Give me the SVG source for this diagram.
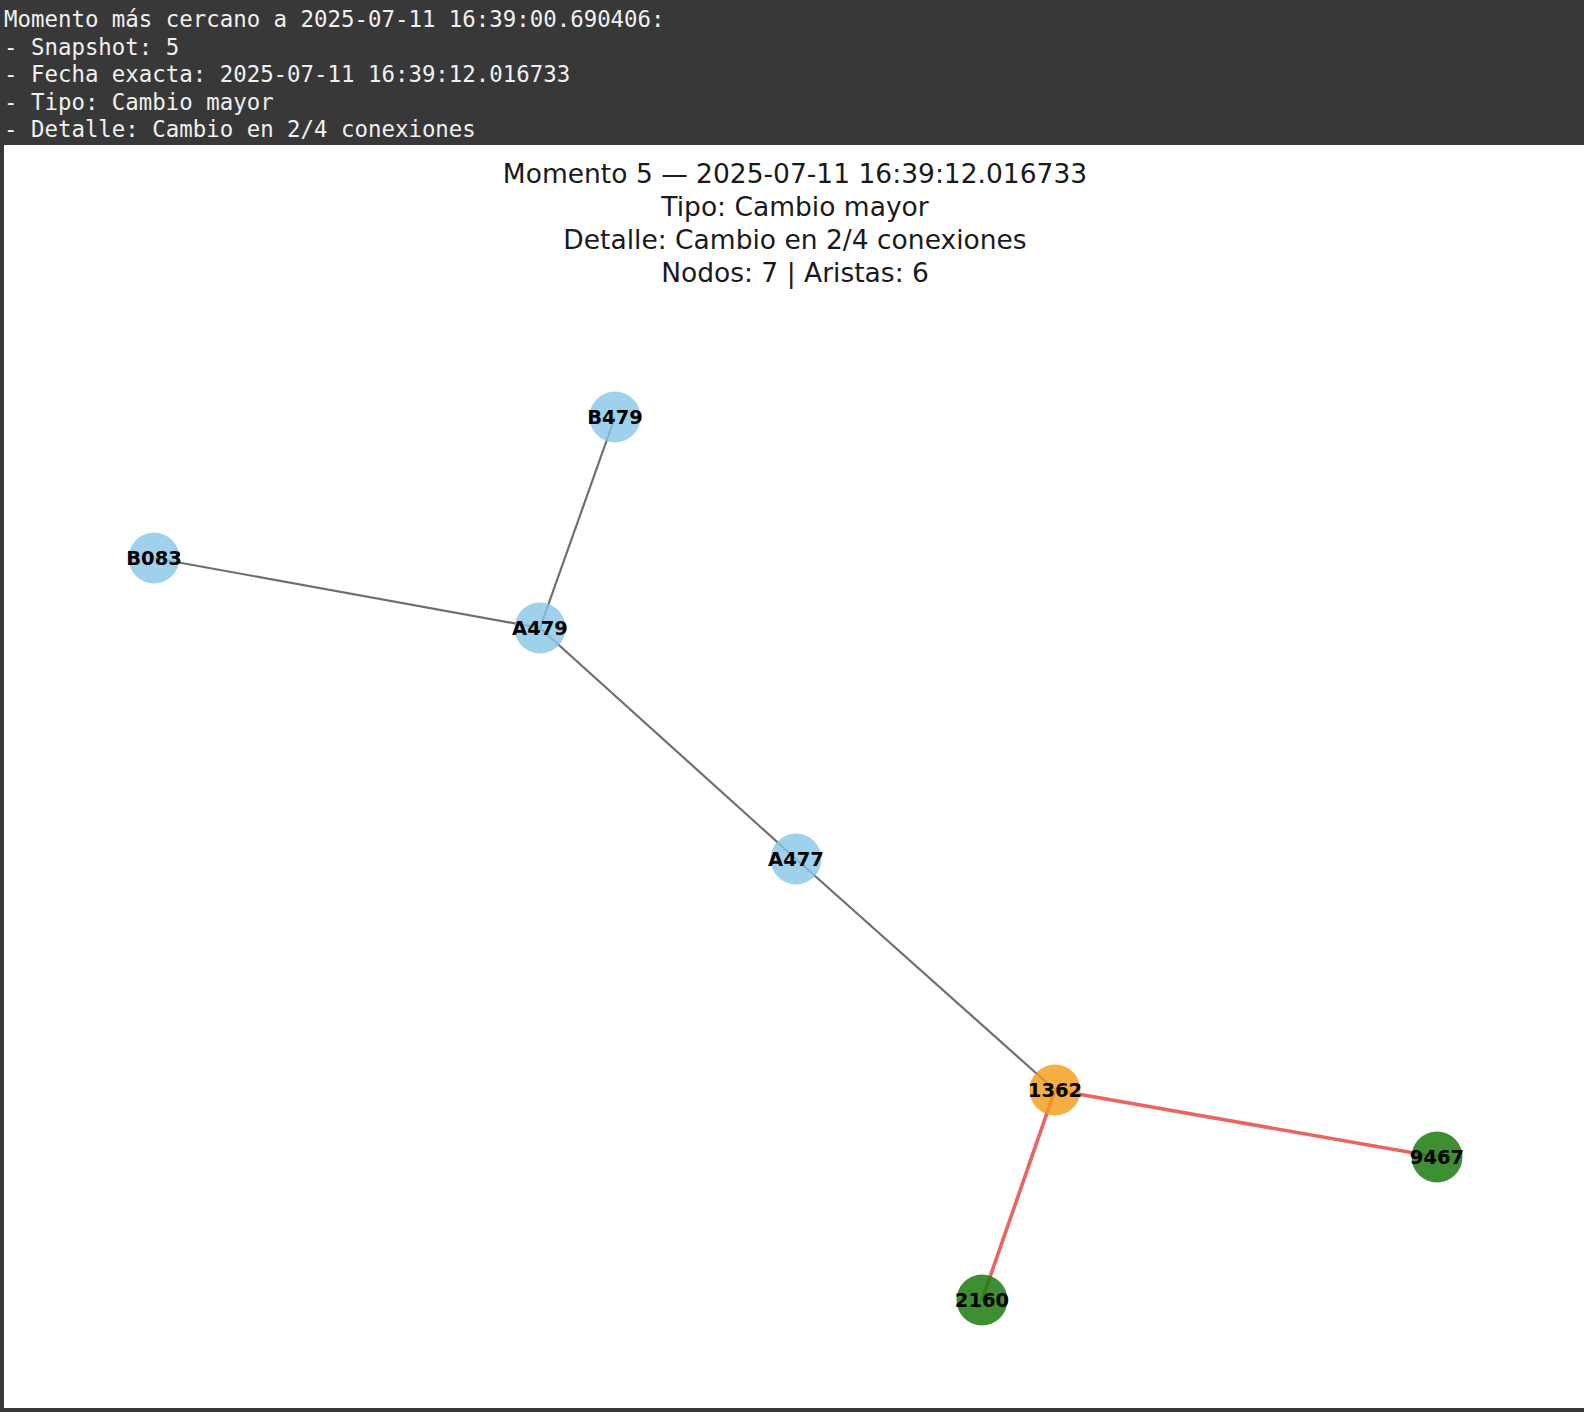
<svg xmlns="http://www.w3.org/2000/svg" width="1584" height="1412" viewBox="0 0 1584 1412">
<style>
.hdr{font-family:"DejaVu Sans Mono","Liberation Mono",monospace;font-size:22.4px;fill:#f0f0f0}
.ttl{font-family:"DejaVu Sans","Liberation Sans",sans-serif;font-size:26.5px;fill:#1a1a1a;text-anchor:middle}
.lbl{font-family:"DejaVu Sans","Liberation Sans",sans-serif;font-size:19.5px;font-weight:bold;fill:#000;text-anchor:middle;dominant-baseline:central}
.e{stroke:#555;stroke-width:2.2;stroke-opacity:0.85}
.r{stroke:#e8534f;stroke-width:3.6;stroke-opacity:0.9}
.blue{fill:#87c6e8;fill-opacity:0.8}
.orange{fill:#f39c1a;fill-opacity:0.82}
.green{fill:#1c7a0f;fill-opacity:0.85}
</style>
<rect x="0" y="0" width="1584" height="1412" fill="#383838"/>
<rect x="4" y="145" width="1580" height="1263" fill="#ffffff"/>
<g id="header">
<text class="hdr" x="4" y="27">Momento más cercano a 2025-07-11 16:39:00.690406:</text>
<text class="hdr" x="4" y="55">- Snapshot: 5</text>
<text class="hdr" x="4" y="82">- Fecha exacta: 2025-07-11 16:39:12.016733</text>
<text class="hdr" x="4" y="110">- Tipo: Cambio mayor</text>
<text class="hdr" x="4" y="137">- Detalle: Cambio en 2/4 conexiones</text>
</g>
<g id="title">
<text class="ttl" x="795" y="182.5">Momento 5 — 2025-07-11 16:39:12.016733</text>
<text class="ttl" x="795" y="215.8">Tipo: Cambio mayor</text>
<text class="ttl" x="795" y="249.1">Detalle: Cambio en 2/4 conexiones</text>
<text class="ttl" x="795" y="282.4">Nodos: 7 | Aristas: 6</text>
</g>
<g id="connectors">
<line class="e" x1="615" y1="417" x2="540" y2="628"/>
<line class="e" x1="154" y1="558" x2="540" y2="628"/>
<line class="e" x1="540" y1="628" x2="796" y2="859"/>
<line class="e" x1="796" y1="859" x2="1055" y2="1090"/>
<line class="r" x1="1055" y1="1090" x2="1437" y2="1157"/>
<line class="r" x1="1055" y1="1090" x2="982" y2="1300"/>
</g>
<g id="node-B479"><circle class="blue" cx="615" cy="417" r="25.5"/><text class="lbl" x="615" y="417">B479</text></g>
<g id="node-B083"><circle class="blue" cx="154" cy="558" r="25.5"/><text class="lbl" x="154" y="558">B083</text></g>
<g id="node-A479"><circle class="blue" cx="540" cy="628" r="25.5"/><text class="lbl" x="540" y="628">A479</text></g>
<g id="node-A477"><circle class="blue" cx="796" cy="859" r="25.5"/><text class="lbl" x="796" y="859">A477</text></g>
<g id="node-1362"><circle class="orange" cx="1055" cy="1090" r="25.5"/><text class="lbl" x="1055" y="1090">1362</text></g>
<g id="node-9467"><circle class="green" cx="1437" cy="1157" r="25.5"/><text class="lbl" x="1437" y="1157">9467</text></g>
<g id="node-2160"><circle class="green" cx="982" cy="1300" r="25.5"/><text class="lbl" x="982" y="1300">2160</text></g>
</svg>
